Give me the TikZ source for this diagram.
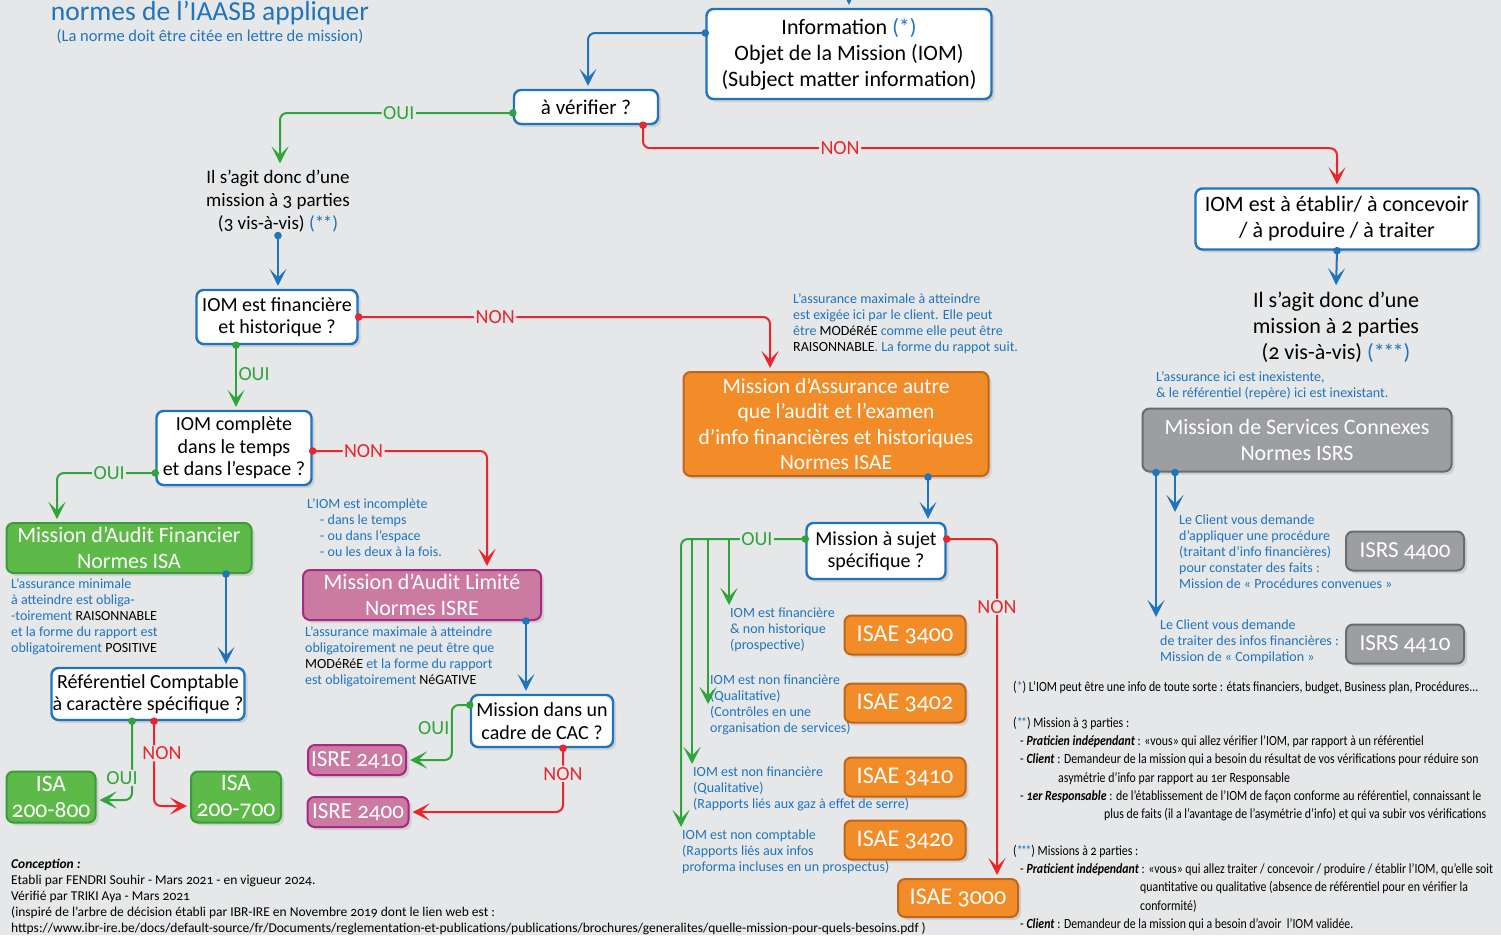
\documentclass[tikz,border=0pt]{standalone}
\usepackage{fontspec}
\setmainfont{Carlito}[Numbers=OldStyle]
\newfontfamily\etroit{Carlito}[Numbers=OldStyle,FakeStretch=0.845]
\usetikzlibrary{arrows.meta,shadows}

\definecolor{fond}{HTML}{E6E7E8}
\definecolor{bleu}{HTML}{1F74BC}
\definecolor{vert}{HTML}{2FA43A}
\definecolor{rouge}{HTML}{E8262B}
\definecolor{vertf}{HTML}{5DB948}
\definecolor{vertd}{HTML}{3B9B3A}
\definecolor{rosef}{HTML}{CB7AA1}
\definecolor{rosed}{HTML}{A62A83}
\definecolor{orangef}{HTML}{F28C28}
\definecolor{oranged}{HTML}{C0651A}
\definecolor{grisf}{HTML}{9C9EA1}
\definecolor{grisd}{HTML}{6B6C6E}

\newcommand{\pastille}[2]{\fill[#1] (#2) circle (3.8);}
\newcommand{\etoiles}[1]{\textcolor{bleu}{#1}}

\tikzset{
  fleche/.style={line width=2pt, rounded corners=7pt,
    -{Stealth[length=17pt,width=17pt,inset=8.5pt]}, shorten >=3pt},
  ombre/.style={drop shadow={opacity=0.22,shadow xshift=3pt,shadow yshift=-3pt}},
  question/.style={draw=bleu, line width=2.4pt, fill=white, rounded corners=7pt,
    align=center, inner sep=1pt, ombre, font=\fontsize{20}{22.5}\selectfont},
  normebox/.style={line width=2pt, rounded corners=7pt, align=center, inner sep=1pt,
    text=white, ombre, font=\fontsize{22}{25.5}\selectfont},
  isa/.style={normebox, fill=vertf, draw=vertd},
  isre/.style={normebox, fill=rosef, draw=rosed},
  isae/.style={normebox, fill=orangef, draw=oranged},
  isrs/.style={normebox, fill=grisf, draw=grisd},
  remarque/.style={text=bleu, align=left, inner sep=0pt, anchor=north west,
    font=\fontsize{14}{16}\selectfont},
  choix/.style={fill=fond, inner sep=1.5pt, font=\fontsize{20}{20}\selectfont},
  choixlibre/.style={inner sep=1.5pt, font=\fontsize{20}{20}\selectfont},
  renvoi/.style={align=left, inner sep=0pt, anchor=north west,
    font=\etroit\fontsize{14}{18.2}\selectfont},
}

\begin{document}
\begin{tikzpicture}[x=1pt,y=-1pt]
\fill[fond] (0,0) rectangle (1501,935);
\useasboundingbox (0,0) rectangle (1501,935);

% titre
\node[text=bleu, font=\fontsize{27.5}{28}\selectfont] (titre) at (210,13) {normes de l’IAASB appliquer};
\node[text=bleu, font=\fontsize{16.5}{17}\selectfont] (soustitre) at (210,37) {(La norme doit être citée en lettre de mission)};

% questions
\node[question, minimum width=285pt, minimum height=90pt, font=\fontsize{22}{26}\selectfont] (info) at (849,54)
  {Information \etoiles{(*)}\\Objet de la Mission (IOM)\\(Subject matter information)};
\node[question, minimum width=144pt, minimum height=34pt, font=\fontsize{21}{24}\selectfont] (verif) at (586,107) {à vérifier ?};
\node[question, minimum width=283pt, minimum height=61pt, font=\fontsize{22}{26}\selectfont] (etablir) at (1337,219)
  {IOM est à établir/ à concevoir\\/ à produire / à traiter};
\node[question, minimum width=161pt, minimum height=54pt] (finhist) at (277,317) {IOM est financière\\et historique ?};
\node[question, minimum width=155pt, minimum height=74pt] (complete) at (234,448) {IOM complète\\dans le temps\\et dans l’espace ?};
\node[question, minimum width=193pt, minimum height=52pt] (refcpt) at (148,694) {Référentiel Comptable\\à caractère spécifique ?};
\node[question, minimum width=142pt, minimum height=52pt] (cac) at (542,721) {Mission dans un\\cadre de CAC ?};
\node[question, minimum width=139pt, minimum height=56pt] (sujet) at (876,551) {Mission à sujet\\spécifique ?};

\node[font=\fontsize{19}{23}\selectfont, align=center] (troisp) at (278,201)
  {Il s’agit donc d’une\\mission à 3 parties\\(3 vis-à-vis) \etoiles{(*\kern-1.5pt*)}};
\node[font=\fontsize{22}{26}\selectfont, align=center] (deuxp) at (1336,327)
  {Il s’agit donc d’une\\mission à 2 parties\\(2 vis-à-vis) \etoiles{(*\kern-1.5pt*\kern-1.5pt*)}};

% missions
\node[isa, minimum width=245pt, minimum height=50pt] (isaf) at (129,548) {Mission d’Audit Financier\\Normes ISA};
\node[isre, minimum width=238pt, minimum height=50pt] (isrel) at (422,595) {Mission d’Audit Limité\\Normes ISRE};
\node[isae, minimum width=305pt, minimum height=104pt, font=\fontsize{21.5}{25.5}\selectfont] (assur) at (836,424)
  {Mission d’Assurance autre\\que l’audit et l’examen\\d’info financières et historiques\\Normes ISAE};
\node[isrs, minimum width=309pt, minimum height=63pt] (isrs) at (1297,440) {Mission de Services Connexes\\Normes ISRS};

% normes
\node[isa, minimum width=89pt, minimum height=51pt, font=\fontsize{23.5}{26}\selectfont] (isa8) at (51,797) {ISA\\200-800};
\node[isa, minimum width=90pt, minimum height=51pt, font=\fontsize{23.5}{26}\selectfont] (isa7) at (236,797) {ISA\\200-700};
\node[isre, minimum width=98pt, minimum height=30pt, font=\fontsize{23}{24}\selectfont] (i2410) at (357,760) {ISRE 2410};
\node[isre, minimum width=101pt, minimum height=30pt, font=\fontsize{23}{24}\selectfont] (i2400) at (358,812) {ISRE 2400};
\node[isae, minimum width=121pt, minimum height=39pt, font=\fontsize{24}{24}\selectfont] (isae3400) at (905,635) {ISAE 3400};
\node[isae, minimum width=121pt, minimum height=39pt, font=\fontsize{24}{24}\selectfont] (isae3402) at (905,703) {ISAE 3402};
\node[isae, minimum width=121pt, minimum height=39pt, font=\fontsize{24}{24}\selectfont] (isae3410) at (905,777) {ISAE 3410};
\node[isae, minimum width=121pt, minimum height=39pt, font=\fontsize{24}{24}\selectfont] (isae3420) at (905,840) {ISAE 3420};
\node[isae, minimum width=120pt, minimum height=38pt, font=\fontsize{24}{24}\selectfont] (isae3000) at (958,898) {ISAE 3000};
\node[isrs, minimum width=118pt, minimum height=39pt, font=\fontsize{23}{24}\selectfont] (isrs4400) at (1405,551) {ISRS 4400};
\node[isrs, minimum width=118pt, minimum height=39pt, font=\fontsize{23}{24}\selectfont] (isrs4410) at (1405,644) {ISRS 4410};

% remarques
\node[remarque] (tassur) at (793,293) {L’assurance maximale à atteindre\\est exigée ici par le client. Elle peut\\être \textcolor{black}{MODéRéE} comme elle peut être\\\textcolor{black}{RAISONNABLE}. La forme du rappot suit.};
\node[remarque] (tincompl) at (307,498) {L’IOM est incomplète\\\hspace*{13pt}- dans le temps\\\hspace*{13pt}- ou dans l’espace\\\hspace*{13pt}- ou les deux à la fois.};
\node[remarque] (tisa) at (11,578) {L’assurance minimale\\à atteindre est obliga-\\-toirement \textcolor{black}{RAISONNABLE}\\et la forme du rapport est\\obligatoirement \textcolor{black}{POSITIVE}};
\node[remarque] (tisre) at (305,626) {L’assurance maximale à atteindre\\obligatoirement ne peut être que\\\textcolor{black}{MODéRéE} et la forme du rapport\\est obligatoirement \textcolor{black}{NéGATIVE}};
\node[remarque] (t3400) at (730,608) {IOM est financière\\\& non historique\\(prospective)};
\node[remarque] (t3402) at (710,675) {IOM est non financière\\(Qualitative)\\(Contrôles en une\\organisation de services)};
\node[remarque] (t3410) at (693,767) {IOM est non financière\\(Qualitative)\\(Rapports liés aux gaz à effet de serre)};
\node[remarque] (t3420) at (682,830) {IOM est non comptable\\(Rapports liés aux infos\\proforma incluses en un prospectus)};
\node[remarque] (tinex) at (1156,371) {L’assurance ici est inexistente,\\\& le référentiel (repère) ici est inexistant.};
\node[remarque] (tproc) at (1179,515) {Le Client vous demande\\d’appliquer une procédure\\(traitant d’info financières)\\pour constater des faits :\\Mission de « Procédures convenues »};
\node[remarque] (tcompil) at (1160,620) {Le Client vous demande\\de traiter des infos financières :\\Mission de « Compilation »};

% renvois
\node[renvoi] (renvoiA) at (1013,681) {(\etoiles{*}) L’IOM peut être une info de toute sorte : états financiers, budget, Business plan, Procédures...};
\node[renvoi] (renvoiB) at (1013,717) {(\etoiles{*\kern-1.5pt*}) Mission à 3 parties :\\
\hspace*{7pt}- \textbf{\textit{Praticien indépendant}} : «vous» qui allez vérifier l’IOM, par rapport à un référentiel\\
\hspace*{7pt}- \textbf{\textit{Client}} : Demandeur de la mission qui a besoin du résultat de vos vérifications pour réduire son\\
\hspace*{45pt}asymétrie d’info par rapport au 1er Responsable\\
\hspace*{7pt}- \textbf{\textit{1er Responsable}} : de l’établissement de l’IOM de façon conforme au référentiel, connaissant le\\
\hspace*{91pt}plus de faits (il a l’avantage de l’asymétrie d’info) et qui va subir vos vérifications};
\node[renvoi] (renvoiC) at (1013,845) {(\etoiles{*\kern-1.5pt*\kern-1.5pt*}) Missions à 2 parties :\\
\hspace*{7pt}- \textbf{\textit{Praticient indépendant}} : «vous» qui allez traiter / concevoir / produire / établir l’IOM, qu’elle soit\\
\hspace*{127pt}quantitative ou qualitative (absence de référentiel pour en vérifier la\\
\hspace*{127pt}conformité)\\
\hspace*{7pt}- \textbf{\textit{Client}} : Demandeur de la mission qui a besoin d’avoir~ l’IOM validée.};
\node[renvoi, font=\fontsize{13.5}{16}\selectfont] (conception) at (11,859) {\textbf{\textit{Conception :}}\\Etabli par FENDRI Souhir - Mars 2021 - en vigueur 2024.\\Vérifié par TRIKI Aya - Mars 2021\\(inspiré de l’arbre de décision établi par IBR-IRE en Novembre 2019 dont le lien web est :\\https://www.ibr-ire.be/docs/default-source/fr/Documents/reglementation-et-publications/publications/brochures/generalites/quelle-mission-pour-quels-besoins.pdf )};

% connecteurs
\coordinate (hautinfo) at (849,-25);
\draw[fleche,bleu] (hautinfo) -- (info.north);
\coordinate (d_info) at ([yshift=21pt]info.west);
\draw[fleche,bleu] (d_info) -| ([xshift=2pt]verif.north);

\coordinate (d_verif_oui) at ([yshift=-6pt]verif.west);
\draw[fleche,vert] (d_verif_oui) -| node[choix,text=vert,pos=0.245] {OUI} ([xshift=2pt]troisp.north);
\coordinate (d_verif_non) at ([xshift=57pt]verif.south);
\draw[fleche,rouge] (d_verif_non) -- ++(0,23) -| node[choix,text=rouge,pos=0.142] {NON} (etablir.north);

\coordinate (d_etab) at (etablir.south);
\draw[fleche,bleu] (d_etab) -- (deuxp.north);
\coordinate (d_trois) at (troisp.south);
\draw[fleche,bleu] (d_trois) -- ([xshift=1pt]finhist.north);

\coordinate (d_fin_non) at (finhist.east);
\draw[fleche,rouge] (d_fin_non) -| node[choix,text=rouge,pos=0.166] {NON} ([xshift=-66pt]assur.north);
\coordinate (d_fin_oui) at ([xshift=-41pt]finhist.south);
\draw[fleche,vert] (d_fin_oui) -- node[choixlibre,right,text=vert,pos=0.45] {OUI} ([xshift=2pt]complete.north);

\coordinate (d_cpl_non) at ([yshift=-3pt]complete.east);
\draw[fleche,rouge] (d_cpl_non) -| node[choix,text=rouge,pos=0.146] {NON} ([xshift=65pt]isrel.north);
\coordinate (d_cpl_oui) at ([yshift=-25pt]complete.west);
\draw[fleche,vert] (d_cpl_oui) -| node[choix,text=vert,pos=0.235] {OUI} ([xshift=-72pt]isaf.north);

\coordinate (d_isa) at ([xshift=97pt]isaf.south);
\draw[fleche,bleu] (d_isa) -- ([xshift=78pt]refcpt.north);

\coordinate (d_ref_oui) at ([xshift=-16pt]refcpt.south);
\coordinate (d_ref_non) at ([xshift=6pt]refcpt.south);
\draw[fleche,vert] (d_ref_oui) |- node[choix,text=vert,pos=0.36,xshift=-10pt] {OUI} ([yshift=-3pt]isa8.east);
\draw[fleche,rouge] (d_ref_non) |- node[choix,text=rouge,pos=0.19,xshift=8pt] {NON} ([yshift=-9pt]isa7.west);

\coordinate (d_isre) at ([xshift=104pt]isrel.south);
\draw[fleche,bleu] (d_isre) -- ([xshift=-16pt]cac.north);

\coordinate (d_cac_oui) at ([yshift=16pt]cac.west);
\draw[fleche,vert] (d_cac_oui) -- ++(-18,0) |- node[choixlibre,left,text=vert,pos=0.21] {OUI} (i2410.east);
\coordinate (d_cac_non) at ([xshift=21pt]cac.south);
\draw[fleche,rouge] (d_cac_non) |- node[choix,text=rouge,pos=0.2] {NON} (i2400.east);

\coordinate (d_assur) at ([xshift=92pt]assur.south);
\draw[fleche,bleu] (d_assur) -- ([xshift=52pt]sujet.north);

\coordinate (d_suj_oui) at ([yshift=12pt]sujet.west);
\draw[fleche,vert] (d_suj_oui) -| node[choix,text=vert,pos=0.195] {OUI} ([xshift=-1pt]t3420.north west);
\coordinate (b3400) at (729,539);
\coordinate (b3402) at (708,539);
\coordinate (b3410) at (692,539);
\coordinate (p3402) at (708,707);
\draw[fleche,vert] (b3400) -- (b3400 |- t3400.north);
\draw[fleche,vert] (b3402) -- (p3402);
\draw[fleche,vert] (b3410) -- (b3410 |- t3410.north);

\coordinate (d_suj_non) at ([yshift=12pt]sujet.east);
\draw[fleche,rouge] (d_suj_non) -| node[choix,text=rouge,pos=0.6] {NON} ([xshift=39pt]isae3000.north);

\coordinate (d_isrs1) at ([xshift=-141pt]isrs.south);
\coordinate (d_isrs2) at ([xshift=-122pt]isrs.south);
\draw[fleche,bleu] (d_isrs2) -- (d_isrs2 |- tproc.north);
\draw[fleche,bleu] (d_isrs1) -- (d_isrs1 |- tcompil.north);

% pastilles
\pastille{bleu}{d_info}
\pastille{vert}{d_verif_oui}
\pastille{rouge}{d_verif_non}
\pastille{bleu}{d_etab}
\pastille{bleu}{d_trois}
\pastille{rouge}{d_fin_non}
\pastille{vert}{d_fin_oui}
\pastille{rouge}{d_cpl_non}
\pastille{vert}{d_cpl_oui}
\pastille{bleu}{d_isa}
\pastille{vert}{d_ref_oui}
\pastille{rouge}{d_ref_non}
\pastille{bleu}{d_isre}
\pastille{vert}{d_cac_oui}
\pastille{rouge}{d_cac_non}
\pastille{bleu}{d_assur}
\pastille{vert}{d_suj_oui}
\pastille{rouge}{d_suj_non}
\pastille{bleu}{d_isrs1}
\pastille{bleu}{d_isrs2}
\end{tikzpicture}
\end{document}
